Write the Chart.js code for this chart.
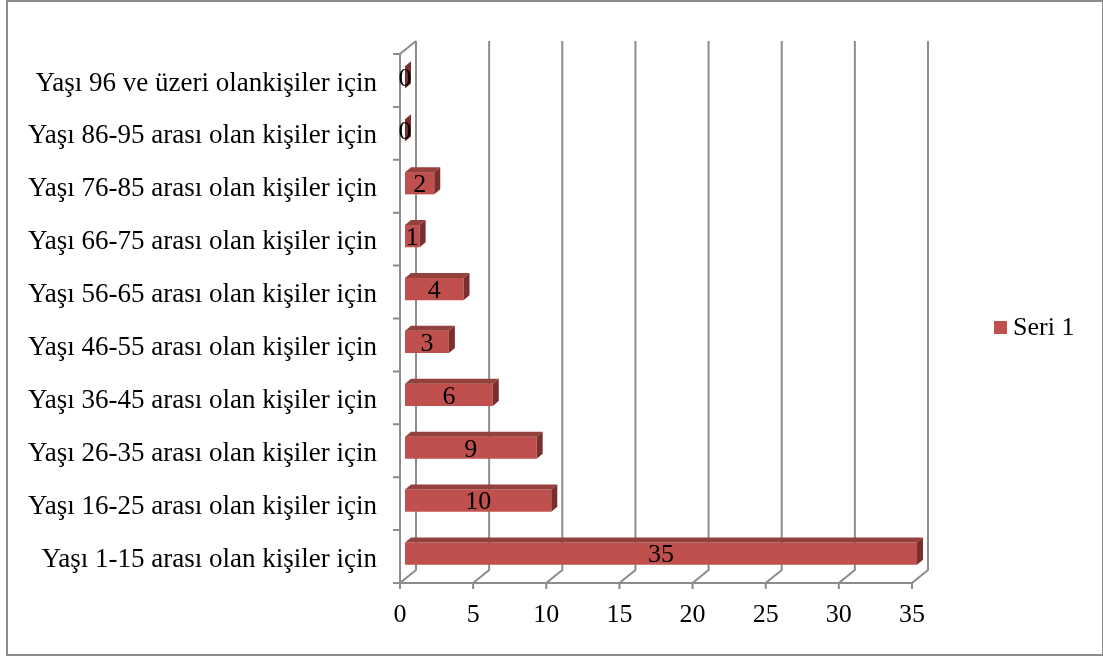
<!DOCTYPE html>
<html>
<head>
<meta charset="utf-8">
<script src="https://cdn.jsdelivr.net/npm/chart.js@4.4.1/dist/chart.umd.min.js"></script>
<style>
  html, body { margin: 0; padding: 0; background: #fff; }
  #frame { position: absolute; left: 6px; top: 0; width: 1094px; height: 652px; border: 2px solid #8c8c8c; }
  #wrap { position: absolute; left: 0; top: 0; width: 1103px; height: 657px; }
</style>
</head>
<body>
<div id="frame"></div>
<div id="wrap"><canvas id="chart" width="1103" height="657"></canvas></div>
<script>
// Excel-style 3D horizontal bars, faked with a plugin on top of Chart.js

const categories = [
  'Yaşı 1-15 arası olan kişiler için',
  'Yaşı 16-25 arası olan kişiler için',
  'Yaşı 26-35 arası olan kişiler için',
  'Yaşı 36-45 arası olan kişiler için',
  'Yaşı 46-55 arası olan kişiler için',
  'Yaşı 56-65 arası olan kişiler için',
  'Yaşı 66-75 arası olan kişiler için',
  'Yaşı 76-85 arası olan kişiler için',
  'Yaşı 86-95 arası olan kişiler için',
  'Yaşı 96 ve üzeri olankişiler için',
];
const seri1 = [35, 10, 9, 6, 3, 4, 1, 2, 0, 0];
const xTicks = [0, 5, 10, 15, 20, 25, 30, 35];

const COLORS = {
  front: '#c0504d',
  top:   '#94403d',
  side:  '#7b2f2d',
  wall:  '#8c8c8c',
};
const FONT = "'Liberation Serif', 'Times New Roman', serif";

// wall depth and bar depth offsets (px)
const WALL = { dx: 16, dy: -13 };
const BAR_SHIFT = { dx: 5, dy: -3 };
const BAR_DEPTH = { dx: 6, dy: -5 };

const wallsPlugin = {
  id: 'walls',
  beforeDatasetsDraw(chart) {
    const { ctx, chartArea: a, scales: { x } } = chart;
    ctx.save();
    ctx.strokeStyle = COLORS.wall;
    ctx.lineWidth = 2;
    ctx.beginPath();
    xTicks.forEach(v => {
      const px = x.getPixelForValue(v);
      // back wall line
      ctx.moveTo(px + WALL.dx, a.top + WALL.dy);
      ctx.lineTo(px + WALL.dx, a.bottom + WALL.dy);
      // floor diagonal
      ctx.lineTo(px, a.bottom);
      // tick mark
      ctx.lineTo(px, a.bottom + 6);
    });
    // front floor edge
    ctx.moveTo(x.getPixelForValue(0), a.bottom);
    ctx.lineTo(x.getPixelForValue(35), a.bottom);
    // left wall front edge + top diagonal
    const x0 = x.getPixelForValue(0);
    ctx.moveTo(x0 + WALL.dx, a.top + WALL.dy);
    ctx.lineTo(x0, a.top);
    ctx.lineTo(x0, a.bottom);
    // category ticks at band boundaries
    const n = categories.length;
    for (let i = 0; i <= n; i++) {
      const yy = a.top + (a.bottom - a.top) * i / n;
      ctx.moveTo(x0 - 7, yy);
      ctx.lineTo(x0, yy);
    }
    ctx.stroke();
    ctx.restore();

    // bars get drawn shifted into the depth
    ctx.save();
    ctx.translate(BAR_SHIFT.dx, BAR_SHIFT.dy);
  },
  afterDatasetsDraw(chart) {
    const { ctx } = chart;
    const meta = chart.getDatasetMeta(0);
    meta.data.forEach((bar, i) => {
      const { x, y, base, height } = bar.getProps(['x', 'y', 'base', 'height'], true);
      const top = y - height / 2, bottom = y + height / 2;
      // top face
      if (x > base) {
        ctx.fillStyle = COLORS.top;
        ctx.beginPath();
        ctx.moveTo(base, top);
        ctx.lineTo(base + BAR_DEPTH.dx, top + BAR_DEPTH.dy);
        ctx.lineTo(x + BAR_DEPTH.dx, top + BAR_DEPTH.dy);
        ctx.lineTo(x, top);
        ctx.closePath();
        ctx.fill();
      }
      // side face
      ctx.fillStyle = COLORS.side;
      ctx.beginPath();
      ctx.moveTo(x, top);
      ctx.lineTo(x + BAR_DEPTH.dx, top + BAR_DEPTH.dy);
      ctx.lineTo(x + BAR_DEPTH.dx, bottom + BAR_DEPTH.dy);
      ctx.lineTo(x, bottom);
      ctx.closePath();
      ctx.fill();
      // value label
      ctx.fillStyle = '#000';
      ctx.font = '26px ' + FONT;
      ctx.textAlign = 'center';
      ctx.textBaseline = 'middle';
      ctx.fillText(String(seri1[i]), (x + base) / 2, y + 2);
    });
    ctx.restore();

    // legend
    const ds = chart.data.datasets[0];
    ctx.save();
    ctx.fillStyle = ds.backgroundColor;
    ctx.fillRect(994, 321, 13, 13);
    ctx.fillStyle = '#000';
    ctx.font = '26px ' + FONT;
    ctx.textAlign = 'left';
    ctx.textBaseline = 'middle';
    ctx.fillText(ds.label, 1013, 328);
    ctx.restore();
  },
};

new Chart(document.getElementById('chart'), {
  type: 'bar',
  data: {
    labels: categories,
    datasets: [{
      label: 'Seri 1',
      data: seri1,
      backgroundColor: COLORS.front,
      borderWidth: 0,
      barPercentage: 0.42,
      categoryPercentage: 1,
    }],
  },
  options: {
    indexAxis: 'y',
    responsive: false,
    animation: false,
    layout: { padding: { top: 54, right: 191, left: 0, bottom: 0 } },
    plugins: { legend: { display: false }, tooltip: { enabled: false } },
    scales: {
      x: {
        min: 0, max: 35,
        afterFit: s => { s.height = 74; },
        afterBuildTicks: s => { s.ticks = xTicks.map(v => ({ value: v })); },
        grid: { display: false, drawTicks: false },
        border: { display: false },
        ticks: { color: '#000', font: { family: FONT, size: 26 }, padding: 17, maxRotation: 0 },
      },
      y: {
        reverse: true,
        afterFit: s => { s.width = 400; },
        grid: { display: false, drawTicks: false },
        border: { display: false },
        ticks: { color: '#000', font: { family: FONT, size: 27 }, padding: 23, labelOffset: 3, autoSkip: false },
      },
    },
  },
  plugins: [wallsPlugin],
});
</script>
</body>
</html>
